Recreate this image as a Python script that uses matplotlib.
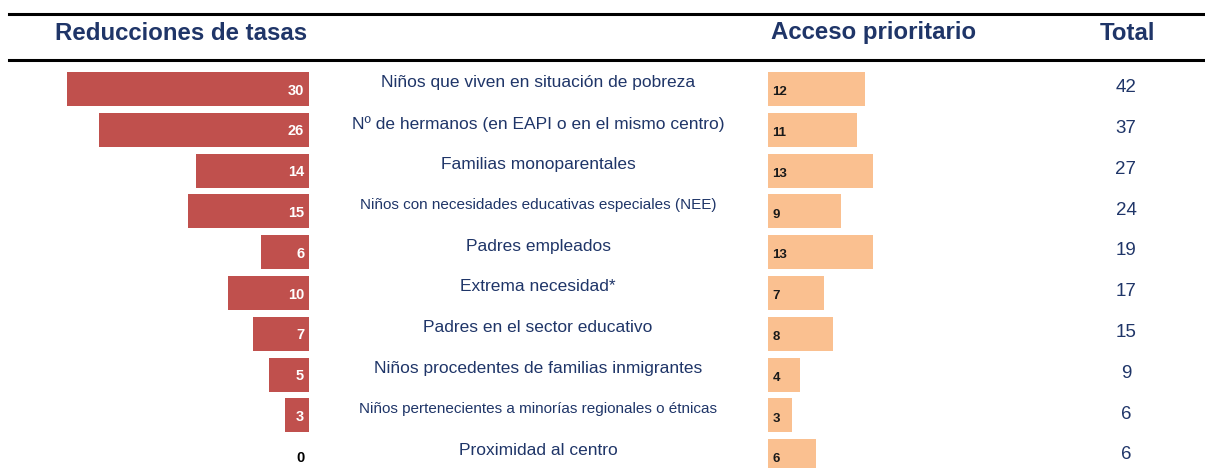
import matplotlib
matplotlib.use("Agg")
import matplotlib.pyplot as plt
import matplotlib.transforms as mtransforms
from matplotlib.lines import Line2D

# data
criterios = [
    "Niños que viven en situación de pobreza",
    "Nº de hermanos (en EAPI o en el mismo centro)",
    "Familias monoparentales",
    "Niños con necesidades educativas especiales (NEE)",
    "Padres empleados",
    "Extrema necesidad*",
    "Padres en el sector educativo",
    "Niños procedentes de familias inmigrantes",
    "Niños pertenecientes a minorías regionales o étnicas",
    "Proximidad al centro",
]
reducciones = [30, 26, 14, 15, 6, 10, 7, 5, 3, 0]
acceso = [12, 11, 13, 9, 13, 7, 8, 4, 3, 6]
totales = [42, 37, 27, 24, 19, 17, 15, 9, 6, 6]
label_sizes = [12.5, 12.5, 12.5, 11, 12.5, 12.5, 12.5, 12.5, 11, 12.5]

RED = "#C0504D"
ORANGE = "#FAC090"
NAVY = "#1F3568"
plt.rcParams["font.family"] = ["Liberation Sans", "DejaVu Sans"]

W, H = 1205, 468
fig = plt.figure(figsize=(W / 100, H / 100), dpi=100)

PX_PER_UNIT = 8.07
ROW0, ROW_STEP = 89, 40.8  # pixel centre of first row, spacing
top_px, bot_px = 64, 468
ylim = ((bot_px - ROW0) / ROW_STEP, (top_px - ROW0) / ROW_STEP)
n = len(criterios)
rows = list(range(n))

# left axes: reducciones (growing to the left)
left_edge = 309
ax_l = fig.add_axes([0, 1 - bot_px / H, left_edge / W, (bot_px - top_px) / H])
ax_l.set_xlim(left_edge / PX_PER_UNIT, 0)
ax_l.set_ylim(*ylim)
ax_l.barh(rows, reducciones, height=0.83, color=RED)
for r, v in zip(rows, reducciones):
    ax_l.text(0.6, r + 0.04, str(v), ha="right", va="center",
              color="white" if v > 0 else "black", fontsize=10.5, fontweight="bold")
ax_l.axis("off")

# right axes: acceso prioritario
right_edge = 768
ax_r = fig.add_axes([right_edge / W, 1 - bot_px / H, (W - right_edge) / W, (bot_px - top_px) / H])
ax_r.set_xlim(0, (W - right_edge) / PX_PER_UNIT)
ax_r.set_ylim(*ylim)
ax_r.barh(rows, acceso, height=0.83, color=ORANGE)
for r, v in zip(rows, acceso):
    ax_r.text(0.55, r + 0.08, str(v), ha="left", va="center", color="#1a1a1a",
              fontsize=9.5, fontweight="bold")
ax_r.axis("off")

# middle labels and totals (x in figure fraction, y in row units)
trans = mtransforms.blended_transform_factory(fig.transFigure, ax_l.transData)
for r, lab, fs, tot in zip(rows, criterios, label_sizes, totales):
    fig.text(538 / W, r - 0.15, lab, transform=trans, ha="center", va="center",
             color=NAVY, fontsize=fs)
    fig.text(1126 / W, r - 0.03, str(tot), transform=trans, ha="center", va="center",
             color=NAVY, fontsize=13.5)

# header
for txt, x in [("Reducciones de tasas", 181), ("Acceso prioritario", 874), ("Total", 1127)]:
    fig.text(x / W, 1 - 33 / H, txt, ha="center", va="center", color=NAVY,
             fontsize=17.3, fontweight="bold")
for y in (14, 60):
    fig.add_artist(Line2D([9 / W, 1], [1 - y / H, 1 - y / H], color="black", lw=2.2,
                          transform=fig.transFigure))

fig.savefig("out.png", dpi=100, facecolor="white")
